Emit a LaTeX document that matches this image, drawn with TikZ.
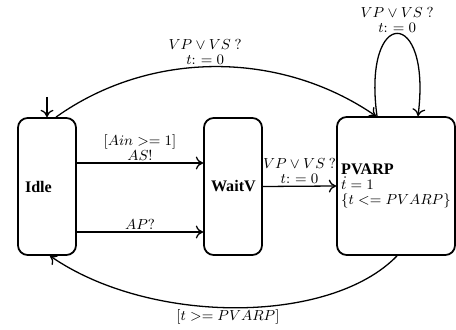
\documentclass[tikz,border=0pt]{standalone}
\usepackage[no-math]{fontspec}
\setmainfont{Liberation Serif}
\usetikzlibrary{calc,arrows.meta}
\def\u{0.62pt}
\newcommand{\lblfont}{\fontsize{9.2pt}{9.4pt}\selectfont}
\tikzset{
  state/.style={draw, line width=1.1pt, rounded corners=6pt, minimum height=137*\u, align=left, anchor=center},
  tr/.style={-{To[length=4.5pt,width=8pt]}, line width=0.8pt},
  lbl/.style={align=center, inner sep=1pt, font=\lblfont}
}
\begin{document}
\begin{tikzpicture}[x=\u, y=-\u]
\useasboundingbox (0,0) rectangle (456,330);
\node[state, text width=44*\u, inner xsep=7*\u] (idle) at (47,186.5) {\textbf{Idle}};
\node[state, text width=44*\u, inner xsep=7*\u] (waitv) at (233,186.5) {\textbf{WaitV}};
\node[state, minimum width=118*\u, inner xsep=1pt, minimum height=138*\u, font=\lblfont] (pvarp) at (396,186) {\fontsize{10pt}{10pt}\selectfont\textbf{PVARP}\\ \fontsize{9.2pt}{10pt}\selectfont$\dot{t}=1$\\ $\{t <= PVARP\}$};
\coordinate (init) at (47,97);
\draw[tr] (init) -- (idle.north);
\draw[tr] ([yshift=23.5*\u]idle.east) -- node[lbl, above] {$[Ain >= 1]$\\ $AS!$} ([yshift=23.5*\u]waitv.west);
\draw[tr] ([yshift=-45.5*\u]idle.east) -- node[lbl, above] {$AP?$} ([yshift=-45.5*\u]waitv.west);
\draw[tr] (waitv.east) -- node[lbl, above] {$VP\vee VS\ ?$\\ $t\colon\,= 0$} (pvarp.west);
\draw[tr] ([xshift=9*\u]idle.north) .. controls (150,50) and (280,50) .. node[lbl, above, pos=0.47] {$VP\vee VS\ ?$\\ $t\colon\,= 0$} ([xshift=-20*\u]pvarp.north);
\draw[tr] ([xshift=-19*\u]pvarp.north) .. controls (362,6) and (432,6) .. node[lbl, above, inner sep=0pt] {$VP\vee VS\ ?$\\ $t\colon\,= 0$} ([xshift=22*\u]pvarp.north);
\draw[tr] ([xshift=1*\u]pvarp.south) .. controls (330,325) and (150,325) .. node[lbl, below, pos=0.52] {$[t >= PVARP]$} ([xshift=3*\u]idle.south);
\end{tikzpicture}
\end{document}
